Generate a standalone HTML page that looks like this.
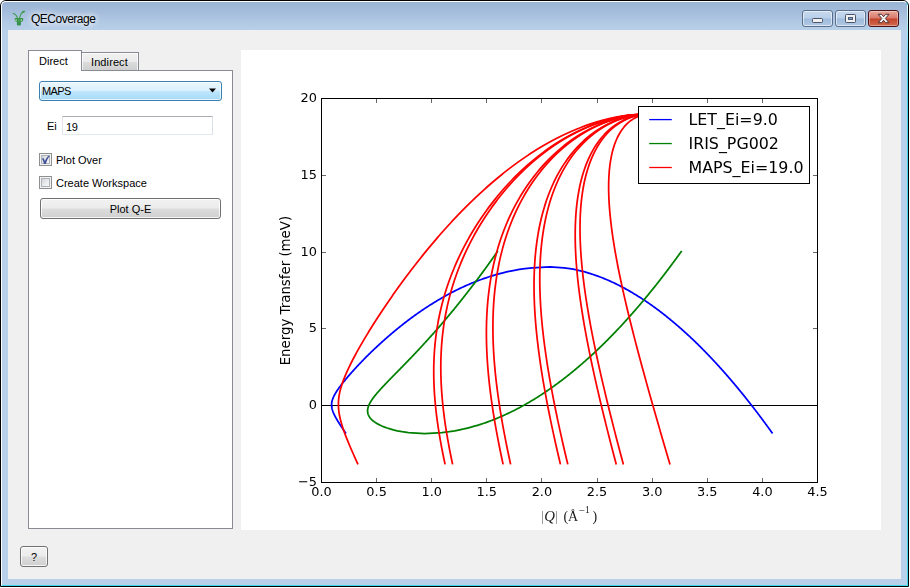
<!DOCTYPE html>
<html>
<head>
<meta charset="utf-8">
<title>QECoverage</title>
<style>
html,body{margin:0;padding:0;background:#fff;}
body{width:910px;height:588px;overflow:hidden;position:relative;font-family:"Liberation Sans",sans-serif;font-size:11px;color:#000;}
.abs{position:absolute;box-sizing:border-box;}
#win{left:0;top:0;width:909px;height:587px;border:1px solid #000;border-radius:6px 6px 0 0;
  background:linear-gradient(to bottom,#98b3d4 0px,#a3bcdb 10px,#b3cae5 22px,#b9d0ea 30px,#b9d0ea 100%);overflow:hidden;}
#hl{left:1px;top:1px;width:907px;height:585px;border:1px solid #fff;border-right-color:#3fd6ee;border-bottom-color:#3fd6ee;border-radius:5px 5px 0 0;}
#hlr{left:907px;top:5px;width:1px;height:60px;background:linear-gradient(to bottom,#e6f8fc,#3fd6ee);}
#client{left:8px;top:30px;width:893px;height:549px;background:#f0f0f0;}
#title{left:31px;top:12px;font-size:12px;line-height:14px;letter-spacing:-0.5px;color:#000;white-space:nowrap;text-shadow:0 0 6px #fff,0 0 6px #fff;}
.cap{top:10px;height:17px;border:1px solid #5b6f8a;border-radius:3px;
  background:linear-gradient(to bottom,#c6d8ee 0%,#b9cfe9 48%,#9fbbdc 52%,#b0c8e4 100%);box-shadow:inset 0 0 0 1px rgba(255,255,255,0.55);}
#bmin{left:802px;width:31px;}
#bmax{left:835px;width:31px;}
#bclose{left:868px;width:31px;border-color:#4c1216;
  background:linear-gradient(to bottom,#e9a99b 0%,#d9796a 48%,#c2432c 52%,#d2694d 100%);box-shadow:inset 0 0 0 1px rgba(255,255,255,0.35);}
.fig{position:absolute;left:241px;top:50px;will-change:transform;}
/* tabs */
#pane{left:28px;top:70px;width:205px;height:459px;background:#fff;border:1px solid #898c95;}
#tab1{left:28px;top:50px;width:54px;height:21px;background:#fff;border:1px solid #898c95;border-bottom:none;}
#tab2{left:81px;top:52px;width:58px;height:18px;border:1px solid #898c95;border-bottom:none;
  background:linear-gradient(to bottom,#f2f2f2 0%,#ebebeb 50%,#dddddd 50%,#cfcfcf 100%);box-shadow:inset 1px 1px 0 rgba(255,255,255,0.7),inset -1px 0 0 rgba(255,255,255,0.7);}
.lbl{white-space:nowrap;line-height:13px;}
#combo{left:39px;top:81px;width:183px;height:20px;border:1px solid #3c7fb1;border-radius:3px;
  background:linear-gradient(to bottom,#eaf6fd 0%,#d9f0fc 48%,#bee6fd 52%,#a7d9f5 100%);box-shadow:inset 0 0 0 1px rgba(255,255,255,0.7);}
#edit{left:62px;top:116px;width:151px;height:19px;background:#fff;border:1px solid #e3e9ef;border-top-color:#abadb3;border-left-color:#e2e3ea;border-right-color:#dbdfe6;}
.chk{width:13px;height:13px;border:1px solid #8e8f8f;background:#f4f4f4;}
.chk i{position:absolute;left:1px;top:1px;width:9px;height:9px;box-sizing:border-box;border:1px solid #aeb3b9;
  background:linear-gradient(135deg,#cfd2d5 0%,#e9eaec 50%,#f8f8f8 100%);display:block;}
.btn{border:1px solid #707070;border-radius:3px;
  background:linear-gradient(to bottom,#f2f2f2 0%,#ebebeb 48%,#dddddd 52%,#cfcfcf 100%);box-shadow:inset 0 0 0 1px rgba(255,255,255,0.8);text-align:center;}
</style>
</head>
<body>
<div id="layer" style="position:absolute;left:0;top:0;width:910px;height:588px;">
<div id="win" class="abs"></div>
<div id="hl" class="abs"></div>
<div id="hlr" class="abs"></div>
<div id="client" class="abs"></div>

<!-- title bar -->
<svg class="abs" style="left:12px;top:10px" width="14" height="17" viewBox="0 0 14 17">
  <g fill="none" stroke="#3f9a4b" stroke-linecap="round">
    <path d="M1.2,3.4 C3.2,3.7 4.6,5.3 5.5,8.2" stroke-width="1.05"/>
    <path d="M12,1.5 C10.2,2 8.4,4.2 7.6,8.2" stroke-width="1.15"/>
    <path d="M12.1,1.4 L10.6,2.3" stroke-width="1.7"/>
  </g>
  <path d="M2.9,7.9 L11,7.9 L11.3,10.2 L10.2,11.4 L8.8,11.9 L9,14.4 C8.6,15.9 5.2,15.9 4.8,14.4 L5,11.9 L3.8,11.4 L2.7,10.2 Z" fill="#36914a"/>
  <rect x="3.4" y="9.3" width="1.5" height="1.6" fill="#9fd39c"/>
  <rect x="8.6" y="9.3" width="1.5" height="1.6" fill="#9fd39c"/>
  <path d="M6.9,8.6 V12.2" stroke="#5fb06a" stroke-width="0.7"/>
</svg>
<div id="title" class="abs">QECoverage</div>
<div id="bmin" class="abs cap"></div>
<div id="bmax" class="abs cap"></div>
<div id="bclose" class="abs cap"></div>
<svg class="abs" style="left:802px;top:10px" width="97" height="17" viewBox="0 0 97 17">
  <rect x="10.5" y="8.5" width="10" height="4" fill="#f1f1f1" stroke="#4c5468" stroke-width="1" rx="0.8"/>
  <rect x="43.5" y="4.5" width="10" height="8" fill="#f1f1f1" stroke="#4c5468" stroke-width="1" rx="0.8"/>
  <rect x="46.5" y="7.5" width="4" height="2" fill="#86a3cb" stroke="#4a5870" stroke-width="1"/>
  <path d="M76.2,4.3 L79.6,4.3 L81.6,6.7 L83.6,4.3 L87,4.3 L83.4,8.5 L87,12.7 L83.6,12.7 L81.6,10.3 L79.6,12.7 L76.2,12.7 L79.8,8.5 Z" fill="#f4f4f4" stroke="#4f3030" stroke-width="1" stroke-linejoin="round"/>
</svg>

<!-- plot -->
<svg class="fig" width="640" height="480" viewBox="0 0 640 480">
<rect x="0" y="0" width="640" height="480" fill="#ffffff"/>
<defs><clipPath id="axclip"><rect x="80.5" y="48.5" width="496" height="384"/></clipPath></defs>
<g clip-path="url(#axclip)" fill="none" stroke-width="1.75" stroke-linejoin="round" stroke-linecap="square">
<path d="M80.5,355.5 L576.5,355.5" stroke="#000" stroke-width="1" stroke-linecap="butt"/>
<path d="M104.51,382.85 L103.95,382.01 L103.38,381.18 L102.82,380.35 L102.25,379.51 L101.70,378.68 L101.14,377.85 L100.59,377.01 L100.04,376.18 L99.49,375.35 L98.96,374.51 L98.42,373.68 L97.89,372.84 L97.37,372.01 L96.86,371.18 L96.36,370.34 L95.86,369.51 L95.38,368.68 L94.91,367.84 L94.45,367.01 L94.01,366.18 L93.58,365.34 L93.17,364.51 L92.78,363.68 L92.42,362.84 L92.08,362.01 L91.77,361.17 L91.49,360.34 L91.25,359.51 L91.04,358.67 L90.86,357.84 L90.73,357.01 L90.64,356.17 L90.60,355.34 L90.60,354.51 L90.64,353.67 L90.73,352.84 L90.86,352.00 L91.04,351.17 L91.26,350.34 L91.52,349.50 L91.81,348.67 L92.14,347.84 L92.51,347.00 L92.90,346.17 L93.32,345.34 L93.77,344.50 L94.24,343.67 L94.73,342.83 L95.24,342.00 L95.77,341.17 L96.32,340.33 L96.89,339.50 L97.47,338.67 L98.06,337.83 L98.66,337.00 L99.28,336.17 L99.90,335.33 L100.54,334.50 L101.19,333.67 L101.84,332.83 L102.51,332.00 L103.18,331.16 L103.86,330.33 L104.55,329.50 L105.24,328.66 L105.94,327.83 L106.65,327.00 L107.36,326.16 L108.08,325.33 L108.81,324.50 L109.54,323.66 L110.27,322.83 L111.02,321.99 L111.76,321.16 L112.52,320.33 L113.27,319.49 L114.04,318.66 L114.80,317.83 L115.58,316.99 L116.35,316.16 L117.14,315.33 L117.92,314.49 L118.71,313.66 L119.51,312.82 L120.31,311.99 L121.12,311.16 L121.93,310.32 L122.74,309.49 L123.56,308.66 L124.39,307.82 L125.22,306.99 L126.05,306.16 L126.89,305.32 L127.74,304.49 L128.59,303.66 L129.44,302.82 L130.30,301.99 L131.16,301.15 L132.03,300.32 L132.90,299.49 L133.78,298.65 L134.66,297.82 L135.55,296.99 L136.45,296.15 L137.34,295.32 L138.25,294.49 L139.16,293.65 L140.07,292.82 L140.99,291.98 L141.92,291.15 L142.85,290.32 L143.79,289.48 L144.73,288.65 L145.68,287.82 L146.64,286.98 L147.60,286.15 L148.56,285.32 L149.54,284.48 L150.52,283.65 L151.50,282.82 L152.50,281.98 L153.50,281.15 L154.50,280.31 L155.52,279.48 L156.54,278.65 L157.56,277.81 L158.60,276.98 L159.64,276.15 L160.69,275.31 L161.75,274.48 L162.81,273.65 L163.89,272.81 L164.97,271.98 L166.06,271.14 L167.16,270.31 L168.27,269.48 L169.38,268.64 L170.51,267.81 L171.65,266.98 L172.79,266.14 L173.95,265.31 L175.11,264.48 L176.29,263.64 L177.48,262.81 L178.67,261.97 L179.88,261.14 L181.10,260.31 L182.33,259.47 L183.58,258.64 L184.84,257.81 L186.11,256.97 L187.39,256.14 L188.69,255.31 L190.00,254.47 L191.33,253.64 L192.67,252.81 L194.03,251.97 L195.40,251.14 L196.80,250.30 L198.21,249.47 L199.63,248.64 L201.08,247.80 L202.55,246.97 L204.03,246.14 L205.54,245.30 L207.07,244.47 L208.63,243.64 L210.21,242.80 L211.81,241.97 L213.45,241.13 L215.11,240.30 L216.80,239.47 L218.52,238.63 L220.28,237.80 L222.07,236.97 L223.90,236.13 L225.77,235.30 L227.68,234.47 L229.64,233.63 L231.65,232.80 L233.71,231.96 L235.83,231.13 L238.02,230.30 L240.27,229.46 L242.60,228.63 L245.02,227.80 L247.53,226.96 L250.15,226.13 L252.89,225.30 L255.77,224.46 L258.82,223.63 L262.06,222.80 L265.54,221.96 L269.33,221.13 L273.53,220.29 L278.29,219.46 L283.93,218.63 L291.29,217.79 L309.06,216.96 L309.06,216.96 L322.95,217.79 L328.85,218.63 L333.43,219.46 L337.33,220.29 L340.78,221.13 L343.92,221.96 L346.83,222.80 L349.54,223.63 L352.10,224.46 L354.54,225.30 L356.86,226.13 L359.08,226.96 L361.22,227.80 L363.29,228.63 L365.29,229.46 L367.22,230.30 L369.11,231.13 L370.94,231.96 L372.72,232.80 L374.47,233.63 L376.17,234.47 L377.83,235.30 L379.47,236.13 L381.06,236.97 L382.63,237.80 L384.17,238.63 L385.69,239.47 L387.17,240.30 L388.64,241.13 L390.08,241.97 L391.49,242.80 L392.89,243.64 L394.27,244.47 L395.63,245.30 L396.97,246.14 L398.29,246.97 L399.60,247.80 L400.89,248.64 L402.16,249.47 L403.42,250.30 L404.66,251.14 L405.90,251.97 L407.11,252.81 L408.32,253.64 L409.51,254.47 L410.69,255.31 L411.86,256.14 L413.02,256.97 L414.16,257.81 L415.30,258.64 L416.42,259.47 L417.54,260.31 L418.64,261.14 L419.74,261.97 L420.82,262.81 L421.90,263.64 L422.97,264.48 L424.03,265.31 L425.08,266.14 L426.12,266.98 L427.16,267.81 L428.18,268.64 L429.20,269.48 L430.22,270.31 L431.22,271.14 L432.22,271.98 L433.21,272.81 L434.20,273.65 L435.17,274.48 L436.14,275.31 L437.11,276.15 L438.07,276.98 L439.02,277.81 L439.97,278.65 L440.91,279.48 L441.84,280.31 L442.77,281.15 L443.69,281.98 L444.61,282.82 L445.52,283.65 L446.43,284.48 L447.33,285.32 L448.23,286.15 L449.12,286.98 L450.01,287.82 L450.89,288.65 L451.77,289.48 L452.65,290.32 L453.51,291.15 L454.38,291.98 L455.24,292.82 L456.09,293.65 L456.94,294.49 L457.79,295.32 L458.63,296.15 L459.47,296.99 L460.31,297.82 L461.14,298.65 L461.96,299.49 L462.79,300.32 L463.61,301.15 L464.42,301.99 L465.23,302.82 L466.04,303.66 L466.85,304.49 L467.65,305.32 L468.44,306.16 L469.24,306.99 L470.03,307.82 L470.82,308.66 L471.60,309.49 L472.38,310.32 L473.16,311.16 L473.93,311.99 L474.70,312.82 L475.47,313.66 L476.23,314.49 L477.00,315.33 L477.76,316.16 L478.51,316.99 L479.26,317.83 L480.01,318.66 L480.76,319.49 L481.51,320.33 L482.25,321.16 L482.99,321.99 L483.72,322.83 L484.46,323.66 L485.19,324.50 L485.92,325.33 L486.64,326.16 L487.36,327.00 L488.08,327.83 L488.80,328.66 L489.52,329.50 L490.23,330.33 L490.94,331.16 L491.65,332.00 L492.36,332.83 L493.06,333.67 L493.76,334.50 L494.46,335.33 L495.16,336.17 L495.85,337.00 L496.54,337.83 L497.23,338.67 L497.92,339.50 L498.60,340.33 L499.29,341.17 L499.97,342.00 L500.65,342.83 L501.32,343.67 L502.00,344.50 L502.67,345.34 L503.34,346.17 L504.01,347.00 L504.68,347.84 L505.34,348.67 L506.01,349.50 L506.67,350.34 L507.33,351.17 L507.98,352.00 L508.64,352.84 L509.29,353.67 L509.94,354.51 L510.59,355.34 L511.24,356.17 L511.89,357.01 L512.53,357.84 L513.17,358.67 L513.81,359.51 L514.45,360.34 L515.09,361.17 L515.72,362.01 L516.36,362.84 L516.99,363.68 L517.62,364.51 L518.25,365.34 L518.88,366.18 L519.50,367.01 L520.13,367.84 L520.75,368.68 L521.37,369.51 L521.99,370.34 L522.60,371.18 L523.22,372.01 L523.84,372.84 L524.45,373.68 L525.06,374.51 L525.67,375.35 L526.28,376.18 L526.88,377.01 L527.49,377.85 L528.09,378.68 L528.70,379.51 L529.30,380.35 L529.90,381.18 L530.49,382.01 L531.09,382.85" stroke="#0000ff"/>
<path d="M256.41,201.60 L255.77,202.51 L255.13,203.43 L254.49,204.34 L253.85,205.26 L253.20,206.17 L252.56,207.08 L251.91,208.00 L251.27,208.91 L250.62,209.83 L249.97,210.74 L249.31,211.66 L248.66,212.57 L248.00,213.48 L247.35,214.40 L246.69,215.31 L246.03,216.23 L245.37,217.14 L244.70,218.05 L244.04,218.97 L243.37,219.88 L242.71,220.80 L242.04,221.71 L241.36,222.63 L240.69,223.54 L240.02,224.45 L239.34,225.37 L238.66,226.28 L237.98,227.20 L237.30,228.11 L236.62,229.02 L235.93,229.94 L235.25,230.85 L234.56,231.77 L233.87,232.68 L233.18,233.60 L232.48,234.51 L231.79,235.42 L231.09,236.34 L230.39,237.25 L229.69,238.17 L228.99,239.08 L228.28,239.99 L227.58,240.91 L226.87,241.82 L226.16,242.74 L225.44,243.65 L224.73,244.57 L224.01,245.48 L223.30,246.39 L222.58,247.31 L221.85,248.22 L221.13,249.14 L220.40,250.05 L219.68,250.96 L218.95,251.88 L218.21,252.79 L217.48,253.71 L216.74,254.62 L216.00,255.54 L215.26,256.45 L214.52,257.36 L213.78,258.28 L213.03,259.19 L212.28,260.11 L211.53,261.02 L210.77,261.93 L210.02,262.85 L209.26,263.76 L208.50,264.68 L207.74,265.59 L206.97,266.51 L206.21,267.42 L205.44,268.33 L204.67,269.25 L203.89,270.16 L203.12,271.08 L202.34,271.99 L201.56,272.90 L200.77,273.82 L199.99,274.73 L199.20,275.65 L198.41,276.56 L197.62,277.48 L196.82,278.39 L196.02,279.30 L195.22,280.22 L194.42,281.13 L193.62,282.05 L192.81,282.96 L192.00,283.87 L191.19,284.79 L190.37,285.70 L189.55,286.62 L188.73,287.53 L187.91,288.45 L187.09,289.36 L186.26,290.27 L185.43,291.19 L184.60,292.10 L183.76,293.02 L182.92,293.93 L182.08,294.84 L181.24,295.76 L180.39,296.67 L179.55,297.59 L178.70,298.50 L177.84,299.42 L176.99,300.33 L176.13,301.24 L175.27,302.16 L174.41,303.07 L173.54,303.99 L172.68,304.90 L171.81,305.81 L170.94,306.73 L170.06,307.64 L169.19,308.56 L168.31,309.47 L167.43,310.38 L166.55,311.30 L165.66,312.21 L164.78,313.13 L163.89,314.04 L163.00,314.96 L162.11,315.87 L161.22,316.78 L160.32,317.70 L159.43,318.61 L158.53,319.53 L157.64,320.44 L156.74,321.35 L155.84,322.27 L154.94,323.18 L154.04,324.10 L153.15,325.01 L152.25,325.93 L151.35,326.84 L150.46,327.75 L149.56,328.67 L148.67,329.58 L147.78,330.50 L146.90,331.41 L146.01,332.32 L145.13,333.24 L144.26,334.15 L143.39,335.07 L142.52,335.98 L141.66,336.90 L140.81,337.81 L139.97,338.72 L139.14,339.64 L138.31,340.55 L137.50,341.47 L136.70,342.38 L135.92,343.29 L135.15,344.21 L134.40,345.12 L133.67,346.04 L132.96,346.95 L132.27,347.87 L131.60,348.78 L130.97,349.69 L130.36,350.61 L129.79,351.52 L129.25,352.44 L128.75,353.35 L128.30,354.26 L127.88,355.18 L127.52,356.09 L127.21,357.01 L126.96,357.92 L126.77,358.84 L126.64,359.75 L126.58,360.66 L126.60,361.58 L126.70,362.49 L126.88,363.41 L127.14,364.32 L127.50,365.23 L127.96,366.15 L128.52,367.06 L129.19,367.98 L129.98,368.89 L130.88,369.81 L131.92,370.72 L133.08,371.63 L134.40,372.55 L135.86,373.46 L137.50,374.38 L139.32,375.29 L141.35,376.20 L143.62,377.12 L146.17,378.03 L149.05,378.95 L152.35,379.86 L156.24,380.78 L161.01,381.69 L167.43,382.60 L183.67,383.52 L183.67,383.52 L200.98,382.60 L208.26,381.69 L213.88,380.78 L218.63,379.86 L222.84,378.95 L226.64,378.03 L230.16,377.12 L233.43,376.20 L236.51,375.29 L239.43,374.38 L242.21,373.46 L244.86,372.55 L247.42,371.63 L249.87,370.72 L252.25,369.81 L254.54,368.89 L256.77,367.98 L258.94,367.06 L261.05,366.15 L263.10,365.23 L265.10,364.32 L267.06,363.41 L268.98,362.49 L270.85,361.58 L272.69,360.66 L274.49,359.75 L276.26,358.84 L278.00,357.92 L279.70,357.01 L281.38,356.09 L283.03,355.18 L284.66,354.26 L286.26,353.35 L287.84,352.44 L289.39,351.52 L290.92,350.61 L292.43,349.69 L293.93,348.78 L295.40,347.87 L296.85,346.95 L298.29,346.04 L299.71,345.12 L301.11,344.21 L302.50,343.29 L303.87,342.38 L305.23,341.47 L306.57,340.55 L307.90,339.64 L309.22,338.72 L310.52,337.81 L311.81,336.90 L313.09,335.98 L314.35,335.07 L315.60,334.15 L316.85,333.24 L318.08,332.32 L319.30,331.41 L320.51,330.50 L321.71,329.58 L322.90,328.67 L324.08,327.75 L325.25,326.84 L326.41,325.93 L327.56,325.01 L328.70,324.10 L329.84,323.18 L330.97,322.27 L332.08,321.35 L333.19,320.44 L334.30,319.53 L335.39,318.61 L336.48,317.70 L337.56,316.78 L338.63,315.87 L339.69,314.96 L340.75,314.04 L341.80,313.13 L342.85,312.21 L343.89,311.30 L344.92,310.38 L345.94,309.47 L346.96,308.56 L347.98,307.64 L348.98,306.73 L349.98,305.81 L350.98,304.90 L351.97,303.99 L352.95,303.07 L353.93,302.16 L354.91,301.24 L355.87,300.33 L356.84,299.42 L357.79,298.50 L358.75,297.59 L359.69,296.67 L360.64,295.76 L361.57,294.84 L362.51,293.93 L363.44,293.02 L364.36,292.10 L365.28,291.19 L366.19,290.27 L367.10,289.36 L368.01,288.45 L368.91,287.53 L369.81,286.62 L370.70,285.70 L371.59,284.79 L372.48,283.87 L373.36,282.96 L374.23,282.05 L375.11,281.13 L375.98,280.22 L376.84,279.30 L377.70,278.39 L378.56,277.48 L379.42,276.56 L380.27,275.65 L381.12,274.73 L381.96,273.82 L382.80,272.90 L383.64,271.99 L384.47,271.08 L385.30,270.16 L386.13,269.25 L386.95,268.33 L387.77,267.42 L388.59,266.51 L389.40,265.59 L390.22,264.68 L391.02,263.76 L391.83,262.85 L392.63,261.93 L393.43,261.02 L394.23,260.11 L395.02,259.19 L395.81,258.28 L396.60,257.36 L397.38,256.45 L398.16,255.54 L398.94,254.62 L399.72,253.71 L400.49,252.79 L401.26,251.88 L402.03,250.96 L402.80,250.05 L403.56,249.14 L404.32,248.22 L405.08,247.31 L405.83,246.39 L406.59,245.48 L407.34,244.57 L408.09,243.65 L408.83,242.74 L409.57,241.82 L410.32,240.91 L411.05,239.99 L411.79,239.08 L412.52,238.17 L413.26,237.25 L413.99,236.34 L414.71,235.42 L415.44,234.51 L416.16,233.60 L416.88,232.68 L417.60,231.77 L418.32,230.85 L419.03,229.94 L419.74,229.02 L420.45,228.11 L421.16,227.20 L421.87,226.28 L422.57,225.37 L423.27,224.45 L423.97,223.54 L424.67,222.63 L425.37,221.71 L426.06,220.80 L426.75,219.88 L427.44,218.97 L428.13,218.05 L428.82,217.14 L429.50,216.23 L430.18,215.31 L430.87,214.40 L431.54,213.48 L432.22,212.57 L432.90,211.66 L433.57,210.74 L434.24,209.83 L434.91,208.91 L435.58,208.00 L436.25,207.08 L436.91,206.17 L437.58,205.26 L438.24,204.34 L438.90,203.43 L439.56,202.51 L440.21,201.60" stroke="#008000"/>
<path d="M116.63,413.57 L115.82,411.81 L115.02,410.05 L114.23,408.29 L113.43,406.53 L112.65,404.77 L111.86,403.01 L111.09,401.25 L110.32,399.49 L109.56,397.73 L108.81,395.97 L108.06,394.21 L107.33,392.45 L106.61,390.69 L105.90,388.93 L105.20,387.17 L104.52,385.41 L103.86,383.65 L103.21,381.89 L102.59,380.13 L101.99,378.37 L101.41,376.61 L100.86,374.85 L100.34,373.09 L99.85,371.33 L99.40,369.57 L98.99,367.81 L98.62,366.05 L98.30,364.29 L98.02,362.53 L97.79,360.77 L97.61,359.01 L97.49,357.25 L97.43,355.49 L97.42,353.73 L97.47,351.97 L97.58,350.21 L97.75,348.45 L97.97,346.69 L98.25,344.93 L98.58,343.17 L98.96,341.41 L99.39,339.65 L99.87,337.89 L100.39,336.14 L100.95,334.38 L101.55,332.62 L102.18,330.86 L102.84,329.10 L103.54,327.34 L104.26,325.58 L105.01,323.82 L105.78,322.06 L106.58,320.30 L107.40,318.54 L108.24,316.78 L109.09,315.02 L109.97,313.26 L110.86,311.50 L111.76,309.74 L112.68,307.98 L113.62,306.22 L114.57,304.46 L115.53,302.70 L116.50,300.94 L117.48,299.18 L118.47,297.42 L119.48,295.66 L120.49,293.90 L121.52,292.14 L122.55,290.38 L123.59,288.62 L124.64,286.86 L125.70,285.10 L126.77,283.34 L127.85,281.58 L128.93,279.82 L130.03,278.06 L131.13,276.30 L132.24,274.54 L133.35,272.78 L134.48,271.02 L135.61,269.26 L136.74,267.50 L137.89,265.74 L139.04,263.98 L140.20,262.22 L141.37,260.46 L142.54,258.70 L143.73,256.94 L144.91,255.18 L146.11,253.42 L147.31,251.66 L148.52,249.90 L149.74,248.14 L150.97,246.38 L152.20,244.62 L153.44,242.86 L154.68,241.10 L155.94,239.34 L157.20,237.58 L158.47,235.82 L159.75,234.06 L161.03,232.30 L162.32,230.54 L163.62,228.78 L164.93,227.03 L166.24,225.27 L167.57,223.51 L168.90,221.75 L170.24,219.99 L171.59,218.23 L172.94,216.47 L174.31,214.71 L175.68,212.95 L177.07,211.19 L178.46,209.43 L179.86,207.67 L181.27,205.91 L182.69,204.15 L184.11,202.39 L185.55,200.63 L187.00,198.87 L188.46,197.11 L189.93,195.35 L191.41,193.59 L192.89,191.83 L194.39,190.07 L195.90,188.31 L197.43,186.55 L198.96,184.79 L200.50,183.03 L202.06,181.27 L203.63,179.51 L205.21,177.75 L206.80,175.99 L208.41,174.23 L210.03,172.47 L211.66,170.71 L213.31,168.95 L214.97,167.19 L216.65,165.43 L218.34,163.67 L220.04,161.91 L221.76,160.15 L223.50,158.39 L225.25,156.63 L227.03,154.87 L228.81,153.11 L230.62,151.35 L232.44,149.59 L234.29,147.83 L236.15,146.07 L238.03,144.31 L239.94,142.55 L241.86,140.79 L243.81,139.03 L245.78,137.27 L247.78,135.51 L249.80,133.75 L251.84,131.99 L253.92,130.23 L256.01,128.47 L258.14,126.71 L260.30,124.95 L262.49,123.19 L264.71,121.43 L266.97,119.67 L269.26,117.92 L271.59,116.16 L273.96,114.40 L276.37,112.64 L278.83,110.88 L281.33,109.12 L283.88,107.36 L286.48,105.60 L289.14,103.84 L291.85,102.08 L294.63,100.32 L297.47,98.56 L300.39,96.80 L303.39,95.04 L306.47,93.28 L309.64,91.52 L312.91,89.76 L316.30,88.00 L319.81,86.24 L323.45,84.48 L327.25,82.72 L331.23,80.96 L335.42,79.20 L339.84,77.44 L344.55,75.68 L349.61,73.92 L355.12,72.16 L361.21,70.40 L368.12,68.64 L376.32,66.88 L387.00,65.12 L412.81,63.36" stroke="#ff0000"/>
<path d="M203.92,413.57 L203.54,411.81 L203.17,410.05 L202.80,408.29 L202.43,406.53 L202.08,404.77 L201.72,403.01 L201.37,401.25 L201.03,399.49 L200.69,397.73 L200.36,395.97 L200.04,394.21 L199.71,392.45 L199.40,390.69 L199.09,388.93 L198.79,387.17 L198.49,385.41 L198.20,383.65 L197.91,381.89 L197.64,380.13 L197.36,378.37 L197.10,376.61 L196.84,374.85 L196.59,373.09 L196.34,371.33 L196.11,369.57 L195.88,367.81 L195.65,366.05 L195.44,364.29 L195.23,362.53 L195.03,360.77 L194.83,359.01 L194.65,357.25 L194.47,355.49 L194.30,353.73 L194.14,351.97 L193.98,350.21 L193.84,348.45 L193.70,346.69 L193.57,344.93 L193.45,343.17 L193.34,341.41 L193.24,339.65 L193.15,337.89 L193.06,336.14 L192.99,334.38 L192.93,332.62 L192.87,330.86 L192.82,329.10 L192.79,327.34 L192.76,325.58 L192.74,323.82 L192.74,322.06 L192.74,320.30 L192.75,318.54 L192.78,316.78 L192.81,315.02 L192.85,313.26 L192.91,311.50 L192.97,309.74 L193.05,307.98 L193.14,306.22 L193.24,304.46 L193.35,302.70 L193.47,300.94 L193.60,299.18 L193.74,297.42 L193.89,295.66 L194.06,293.90 L194.24,292.14 L194.43,290.38 L194.63,288.62 L194.84,286.86 L195.07,285.10 L195.30,283.34 L195.55,281.58 L195.81,279.82 L196.08,278.06 L196.37,276.30 L196.67,274.54 L196.98,272.78 L197.30,271.02 L197.63,269.26 L197.98,267.50 L198.34,265.74 L198.71,263.98 L199.10,262.22 L199.50,260.46 L199.91,258.70 L200.33,256.94 L200.77,255.18 L201.22,253.42 L201.68,251.66 L202.16,249.90 L202.65,248.14 L203.15,246.38 L203.67,244.62 L204.20,242.86 L204.75,241.10 L205.30,239.34 L205.87,237.58 L206.46,235.82 L207.06,234.06 L207.67,232.30 L208.29,230.54 L208.93,228.78 L209.59,227.03 L210.26,225.27 L210.94,223.51 L211.63,221.75 L212.34,219.99 L213.07,218.23 L213.81,216.47 L214.56,214.71 L215.33,212.95 L216.11,211.19 L216.91,209.43 L217.72,207.67 L218.55,205.91 L219.39,204.15 L220.25,202.39 L221.12,200.63 L222.01,198.87 L222.91,197.11 L223.83,195.35 L224.76,193.59 L225.71,191.83 L226.68,190.07 L227.66,188.31 L228.66,186.55 L229.68,184.79 L230.71,183.03 L231.76,181.27 L232.82,179.51 L233.91,177.75 L235.00,175.99 L236.12,174.23 L237.26,172.47 L238.41,170.71 L239.58,168.95 L240.77,167.19 L241.98,165.43 L243.21,163.67 L244.46,161.91 L245.72,160.15 L247.01,158.39 L248.32,156.63 L249.65,154.87 L251.00,153.11 L252.37,151.35 L253.76,149.59 L255.18,147.83 L256.62,146.07 L258.08,144.31 L259.57,142.55 L261.08,140.79 L262.62,139.03 L264.18,137.27 L265.77,135.51 L267.39,133.75 L269.03,131.99 L270.71,130.23 L272.42,128.47 L274.15,126.71 L275.92,124.95 L277.73,123.19 L279.57,121.43 L281.44,119.67 L283.35,117.92 L285.30,116.16 L287.30,114.40 L289.33,112.64 L291.41,110.88 L293.54,109.12 L295.72,107.36 L297.95,105.60 L300.23,103.84 L302.58,102.08 L304.99,100.32 L307.46,98.56 L310.01,96.80 L312.63,95.04 L315.34,93.28 L318.13,91.52 L321.03,89.76 L324.04,88.00 L327.16,86.24 L330.42,84.48 L333.83,82.72 L337.41,80.96 L341.19,79.20 L345.19,77.44 L349.47,75.68 L354.09,73.92 L359.13,72.16 L364.72,70.40 L371.09,68.64 L378.68,66.88 L388.62,65.12 L412.81,63.36" stroke="#ff0000"/>
<path d="M211.45,413.57 L211.08,411.81 L210.71,410.05 L210.34,408.29 L209.98,406.53 L209.62,404.77 L209.27,403.01 L208.92,401.25 L208.58,399.49 L208.24,397.73 L207.91,395.97 L207.59,394.21 L207.26,392.45 L206.95,390.69 L206.64,388.93 L206.33,387.17 L206.03,385.41 L205.74,383.65 L205.45,381.89 L205.17,380.13 L204.90,378.37 L204.63,376.61 L204.36,374.85 L204.10,373.09 L203.85,371.33 L203.61,369.57 L203.37,367.81 L203.14,366.05 L202.92,364.29 L202.70,362.53 L202.49,360.77 L202.29,359.01 L202.09,357.25 L201.90,355.49 L201.72,353.73 L201.55,351.97 L201.38,350.21 L201.22,348.45 L201.07,346.69 L200.93,344.93 L200.79,343.17 L200.67,341.41 L200.55,339.65 L200.44,337.89 L200.34,336.14 L200.25,334.38 L200.16,332.62 L200.09,330.86 L200.02,329.10 L199.96,327.34 L199.91,325.58 L199.87,323.82 L199.84,322.06 L199.82,320.30 L199.81,318.54 L199.81,316.78 L199.82,315.02 L199.84,313.26 L199.87,311.50 L199.90,309.74 L199.95,307.98 L200.01,306.22 L200.08,304.46 L200.16,302.70 L200.25,300.94 L200.35,299.18 L200.46,297.42 L200.58,295.66 L200.71,293.90 L200.85,292.14 L201.01,290.38 L201.17,288.62 L201.35,286.86 L201.53,285.10 L201.73,283.34 L201.94,281.58 L202.17,279.82 L202.40,278.06 L202.64,276.30 L202.90,274.54 L203.17,272.78 L203.45,271.02 L203.74,269.26 L204.05,267.50 L204.37,265.74 L204.69,263.98 L205.04,262.22 L205.39,260.46 L205.76,258.70 L206.14,256.94 L206.53,255.18 L206.93,253.42 L207.35,251.66 L207.78,249.90 L208.22,248.14 L208.68,246.38 L209.15,244.62 L209.63,242.86 L210.12,241.10 L210.63,239.34 L211.15,237.58 L211.69,235.82 L212.24,234.06 L212.80,232.30 L213.37,230.54 L213.96,228.78 L214.57,227.03 L215.18,225.27 L215.81,223.51 L216.46,221.75 L217.12,219.99 L217.79,218.23 L218.48,216.47 L219.18,214.71 L219.90,212.95 L220.63,211.19 L221.37,209.43 L222.13,207.67 L222.91,205.91 L223.70,204.15 L224.50,202.39 L225.32,200.63 L226.16,198.87 L227.01,197.11 L227.88,195.35 L228.76,193.59 L229.66,191.83 L230.57,190.07 L231.50,188.31 L232.45,186.55 L233.41,184.79 L234.39,183.03 L235.39,181.27 L236.41,179.51 L237.44,177.75 L238.48,175.99 L239.55,174.23 L240.64,172.47 L241.74,170.71 L242.86,168.95 L244.00,167.19 L245.16,165.43 L246.33,163.67 L247.53,161.91 L248.75,160.15 L249.98,158.39 L251.24,156.63 L252.52,154.87 L253.82,153.11 L255.14,151.35 L256.49,149.59 L257.85,147.83 L259.24,146.07 L260.66,144.31 L262.10,142.55 L263.56,140.79 L265.05,139.03 L266.56,137.27 L268.11,135.51 L269.68,133.75 L271.27,131.99 L272.90,130.23 L274.56,128.47 L276.25,126.71 L277.97,124.95 L279.73,123.19 L281.52,121.43 L283.35,119.67 L285.21,117.92 L287.11,116.16 L289.06,114.40 L291.05,112.64 L293.08,110.88 L295.16,109.12 L297.29,107.36 L299.47,105.60 L301.71,103.84 L304.01,102.08 L306.37,100.32 L308.80,98.56 L311.29,96.80 L313.87,95.04 L316.53,93.28 L319.28,91.52 L322.12,89.76 L325.08,88.00 L328.15,86.24 L331.36,84.48 L334.72,82.72 L338.25,80.96 L341.97,79.20 L345.92,77.44 L350.14,75.68 L354.70,73.92 L359.67,72.16 L365.20,70.40 L371.49,68.64 L379.00,66.88 L388.84,65.12 L412.81,63.36" stroke="#ff0000"/>
<path d="M261.93,413.57 L261.55,411.81 L261.17,410.05 L260.80,408.29 L260.43,406.53 L260.06,404.77 L259.69,403.01 L259.33,401.25 L258.97,399.49 L258.62,397.73 L258.26,395.97 L257.92,394.21 L257.57,392.45 L257.23,390.69 L256.89,388.93 L256.55,387.17 L256.22,385.41 L255.90,383.65 L255.57,381.89 L255.25,380.13 L254.93,378.37 L254.62,376.61 L254.31,374.85 L254.01,373.09 L253.71,371.33 L253.41,369.57 L253.12,367.81 L252.83,366.05 L252.55,364.29 L252.27,362.53 L251.99,360.77 L251.72,359.01 L251.46,357.25 L251.20,355.49 L250.94,353.73 L250.69,351.97 L250.44,350.21 L250.20,348.45 L249.96,346.69 L249.73,344.93 L249.50,343.17 L249.28,341.41 L249.07,339.65 L248.85,337.89 L248.65,336.14 L248.45,334.38 L248.25,332.62 L248.07,330.86 L247.88,329.10 L247.71,327.34 L247.53,325.58 L247.37,323.82 L247.21,322.06 L247.06,320.30 L246.91,318.54 L246.77,316.78 L246.63,315.02 L246.50,313.26 L246.38,311.50 L246.27,309.74 L246.16,307.98 L246.06,306.22 L245.96,304.46 L245.88,302.70 L245.80,300.94 L245.72,299.18 L245.66,297.42 L245.60,295.66 L245.55,293.90 L245.50,292.14 L245.47,290.38 L245.44,288.62 L245.42,286.86 L245.40,285.10 L245.40,283.34 L245.40,281.58 L245.41,279.82 L245.43,278.06 L245.46,276.30 L245.50,274.54 L245.54,272.78 L245.59,271.02 L245.66,269.26 L245.73,267.50 L245.81,265.74 L245.90,263.98 L246.00,262.22 L246.10,260.46 L246.22,258.70 L246.35,256.94 L246.48,255.18 L246.63,253.42 L246.79,251.66 L246.95,249.90 L247.13,248.14 L247.31,246.38 L247.51,244.62 L247.72,242.86 L247.93,241.10 L248.16,239.34 L248.40,237.58 L248.65,235.82 L248.91,234.06 L249.18,232.30 L249.47,230.54 L249.76,228.78 L250.07,227.03 L250.38,225.27 L250.71,223.51 L251.05,221.75 L251.41,219.99 L251.77,218.23 L252.15,216.47 L252.54,214.71 L252.94,212.95 L253.36,211.19 L253.79,209.43 L254.23,207.67 L254.69,205.91 L255.16,204.15 L255.64,202.39 L256.13,200.63 L256.64,198.87 L257.17,197.11 L257.71,195.35 L258.26,193.59 L258.83,191.83 L259.41,190.07 L260.01,188.31 L260.62,186.55 L261.25,184.79 L261.89,183.03 L262.55,181.27 L263.23,179.51 L263.92,177.75 L264.63,175.99 L265.36,174.23 L266.10,172.47 L266.86,170.71 L267.64,168.95 L268.44,167.19 L269.25,165.43 L270.09,163.67 L270.94,161.91 L271.81,160.15 L272.70,158.39 L273.62,156.63 L274.55,154.87 L275.50,153.11 L276.48,151.35 L277.48,149.59 L278.50,147.83 L279.54,146.07 L280.61,144.31 L281.70,142.55 L282.81,140.79 L283.95,139.03 L285.12,137.27 L286.31,135.51 L287.53,133.75 L288.78,131.99 L290.06,130.23 L291.36,128.47 L292.70,126.71 L294.07,124.95 L295.48,123.19 L296.91,121.43 L298.39,119.67 L299.90,117.92 L301.45,116.16 L303.04,114.40 L304.67,112.64 L306.34,110.88 L308.06,109.12 L309.83,107.36 L311.65,105.60 L313.53,103.84 L315.46,102.08 L317.45,100.32 L319.51,98.56 L321.63,96.80 L323.83,95.04 L326.11,93.28 L328.47,91.52 L330.93,89.76 L333.49,88.00 L336.17,86.24 L338.97,84.48 L341.92,82.72 L345.02,80.96 L348.31,79.20 L351.82,77.44 L355.58,75.68 L359.65,73.92 L364.12,72.16 L369.10,70.40 L374.81,68.64 L381.64,66.88 L390.65,65.12 L412.81,63.36" stroke="#ff0000"/>
<path d="M269.44,413.57 L269.06,411.81 L268.68,410.05 L268.30,408.29 L267.93,406.53 L267.55,404.77 L267.18,403.01 L266.82,401.25 L266.45,399.49 L266.09,397.73 L265.74,395.97 L265.38,394.21 L265.03,392.45 L264.68,390.69 L264.34,388.93 L264.00,387.17 L263.66,385.41 L263.32,383.65 L262.99,381.89 L262.67,380.13 L262.34,378.37 L262.02,376.61 L261.70,374.85 L261.39,373.09 L261.08,371.33 L260.78,369.57 L260.48,367.81 L260.18,366.05 L259.89,364.29 L259.60,362.53 L259.31,360.77 L259.03,359.01 L258.76,357.25 L258.48,355.49 L258.22,353.73 L257.95,351.97 L257.70,350.21 L257.44,348.45 L257.19,346.69 L256.95,344.93 L256.71,343.17 L256.47,341.41 L256.24,339.65 L256.02,337.89 L255.80,336.14 L255.58,334.38 L255.37,332.62 L255.17,330.86 L254.97,329.10 L254.78,327.34 L254.59,325.58 L254.41,323.82 L254.23,322.06 L254.06,320.30 L253.90,318.54 L253.74,316.78 L253.59,315.02 L253.44,313.26 L253.30,311.50 L253.16,309.74 L253.04,307.98 L252.91,306.22 L252.80,304.46 L252.69,302.70 L252.59,300.94 L252.49,299.18 L252.40,297.42 L252.32,295.66 L252.25,293.90 L252.18,292.14 L252.12,290.38 L252.07,288.62 L252.02,286.86 L251.98,285.10 L251.95,283.34 L251.93,281.58 L251.92,279.82 L251.91,278.06 L251.91,276.30 L251.92,274.54 L251.93,272.78 L251.96,271.02 L251.99,269.26 L252.04,267.50 L252.09,265.74 L252.15,263.98 L252.21,262.22 L252.29,260.46 L252.38,258.70 L252.47,256.94 L252.57,255.18 L252.69,253.42 L252.81,251.66 L252.94,249.90 L253.08,248.14 L253.24,246.38 L253.40,244.62 L253.57,242.86 L253.75,241.10 L253.94,239.34 L254.15,237.58 L254.36,235.82 L254.58,234.06 L254.82,232.30 L255.06,230.54 L255.32,228.78 L255.58,227.03 L255.86,225.27 L256.15,223.51 L256.45,221.75 L256.77,219.99 L257.09,218.23 L257.43,216.47 L257.78,214.71 L258.14,212.95 L258.51,211.19 L258.90,209.43 L259.30,207.67 L259.71,205.91 L260.14,204.15 L260.57,202.39 L261.03,200.63 L261.49,198.87 L261.97,197.11 L262.46,195.35 L262.97,193.59 L263.49,191.83 L264.03,190.07 L264.58,188.31 L265.14,186.55 L265.73,184.79 L266.32,183.03 L266.93,181.27 L267.56,179.51 L268.21,177.75 L268.87,175.99 L269.54,174.23 L270.24,172.47 L270.95,170.71 L271.68,168.95 L272.43,167.19 L273.19,165.43 L273.98,163.67 L274.78,161.91 L275.60,160.15 L276.44,158.39 L277.30,156.63 L278.18,154.87 L279.08,153.11 L280.01,151.35 L280.95,149.59 L281.92,147.83 L282.91,146.07 L283.92,144.31 L284.96,142.55 L286.02,140.79 L287.11,139.03 L288.22,137.27 L289.36,135.51 L290.52,133.75 L291.72,131.99 L292.94,130.23 L294.19,128.47 L295.47,126.71 L296.79,124.95 L298.14,123.19 L299.52,121.43 L300.93,119.67 L302.39,117.92 L303.88,116.16 L305.41,114.40 L306.98,112.64 L308.60,110.88 L310.26,109.12 L311.97,107.36 L313.73,105.60 L315.55,103.84 L317.42,102.08 L319.35,100.32 L321.35,98.56 L323.41,96.80 L325.54,95.04 L327.76,93.28 L330.06,91.52 L332.45,89.76 L334.95,88.00 L337.56,86.24 L340.29,84.48 L343.17,82.72 L346.20,80.96 L349.42,79.20 L352.84,77.44 L356.53,75.68 L360.52,73.92 L364.90,72.16 L369.78,70.40 L375.39,68.64 L382.11,66.88 L390.97,65.12 L412.81,63.36" stroke="#ff0000"/>
<path d="M319.25,413.57 L318.83,411.81 L318.42,410.05 L318.01,408.29 L317.59,406.53 L317.19,404.77 L316.78,403.01 L316.37,401.25 L315.97,399.49 L315.57,397.73 L315.17,395.97 L314.77,394.21 L314.38,392.45 L313.99,390.69 L313.59,388.93 L313.21,387.17 L312.82,385.41 L312.44,383.65 L312.05,381.89 L311.67,380.13 L311.30,378.37 L310.92,376.61 L310.55,374.85 L310.18,373.09 L309.81,371.33 L309.45,369.57 L309.08,367.81 L308.72,366.05 L308.37,364.29 L308.01,362.53 L307.66,360.77 L307.31,359.01 L306.96,357.25 L306.62,355.49 L306.28,353.73 L305.94,351.97 L305.61,350.21 L305.28,348.45 L304.95,346.69 L304.62,344.93 L304.30,343.17 L303.98,341.41 L303.67,339.65 L303.35,337.89 L303.04,336.14 L302.74,334.38 L302.44,332.62 L302.14,330.86 L301.84,329.10 L301.55,327.34 L301.26,325.58 L300.98,323.82 L300.70,322.06 L300.42,320.30 L300.15,318.54 L299.88,316.78 L299.62,315.02 L299.36,313.26 L299.10,311.50 L298.85,309.74 L298.60,307.98 L298.36,306.22 L298.12,304.46 L297.88,302.70 L297.65,300.94 L297.43,299.18 L297.21,297.42 L296.99,295.66 L296.78,293.90 L296.57,292.14 L296.37,290.38 L296.17,288.62 L295.98,286.86 L295.80,285.10 L295.61,283.34 L295.44,281.58 L295.27,279.82 L295.10,278.06 L294.95,276.30 L294.79,274.54 L294.64,272.78 L294.50,271.02 L294.37,269.26 L294.24,267.50 L294.11,265.74 L294.00,263.98 L293.88,262.22 L293.78,260.46 L293.68,258.70 L293.59,256.94 L293.50,255.18 L293.42,253.42 L293.35,251.66 L293.29,249.90 L293.23,248.14 L293.18,246.38 L293.14,244.62 L293.10,242.86 L293.07,241.10 L293.05,239.34 L293.04,237.58 L293.04,235.82 L293.04,234.06 L293.05,232.30 L293.07,230.54 L293.10,228.78 L293.13,227.03 L293.18,225.27 L293.23,223.51 L293.29,221.75 L293.37,219.99 L293.45,218.23 L293.54,216.47 L293.64,214.71 L293.75,212.95 L293.87,211.19 L293.99,209.43 L294.13,207.67 L294.28,205.91 L294.44,204.15 L294.61,202.39 L294.80,200.63 L294.99,198.87 L295.19,197.11 L295.41,195.35 L295.63,193.59 L295.87,191.83 L296.12,190.07 L296.38,188.31 L296.66,186.55 L296.95,184.79 L297.25,183.03 L297.56,181.27 L297.89,179.51 L298.23,177.75 L298.58,175.99 L298.95,174.23 L299.34,172.47 L299.73,170.71 L300.15,168.95 L300.58,167.19 L301.02,165.43 L301.48,163.67 L301.96,161.91 L302.45,160.15 L302.96,158.39 L303.49,156.63 L304.03,154.87 L304.60,153.11 L305.18,151.35 L305.78,149.59 L306.40,147.83 L307.04,146.07 L307.71,144.31 L308.39,142.55 L309.09,140.79 L309.82,139.03 L310.57,137.27 L311.35,135.51 L312.15,133.75 L312.97,131.99 L313.82,130.23 L314.70,128.47 L315.61,126.71 L316.54,124.95 L317.50,123.19 L318.50,121.43 L319.53,119.67 L320.59,117.92 L321.69,116.16 L322.82,114.40 L323.99,112.64 L325.20,110.88 L326.45,109.12 L327.75,107.36 L329.09,105.60 L330.48,103.84 L331.93,102.08 L333.43,100.32 L334.98,98.56 L336.60,96.80 L338.29,95.04 L340.05,93.28 L341.89,91.52 L343.81,89.76 L345.82,88.00 L347.94,86.24 L350.18,84.48 L352.54,82.72 L355.04,80.96 L357.71,79.20 L360.58,77.44 L363.67,75.68 L367.05,73.92 L370.77,72.16 L374.96,70.40 L379.79,68.64 L385.63,66.88 L393.39,65.12 L412.81,63.36" stroke="#ff0000"/>
<path d="M326.60,413.57 L326.18,411.81 L325.76,410.05 L325.34,408.29 L324.92,406.53 L324.51,404.77 L324.09,403.01 L323.68,401.25 L323.27,399.49 L322.86,397.73 L322.46,395.97 L322.05,394.21 L321.65,392.45 L321.25,390.69 L320.85,388.93 L320.46,387.17 L320.06,385.41 L319.67,383.65 L319.28,381.89 L318.89,380.13 L318.51,378.37 L318.12,376.61 L317.74,374.85 L317.36,373.09 L316.99,371.33 L316.61,369.57 L316.24,367.81 L315.87,366.05 L315.50,364.29 L315.14,362.53 L314.78,360.77 L314.42,359.01 L314.06,357.25 L313.71,355.49 L313.36,353.73 L313.01,351.97 L312.66,350.21 L312.32,348.45 L311.98,346.69 L311.64,344.93 L311.31,343.17 L310.98,341.41 L310.65,339.65 L310.32,337.89 L310.00,336.14 L309.68,334.38 L309.37,332.62 L309.06,330.86 L308.75,329.10 L308.44,327.34 L308.14,325.58 L307.84,323.82 L307.55,322.06 L307.26,320.30 L306.97,318.54 L306.68,316.78 L306.40,315.02 L306.13,313.26 L305.86,311.50 L305.59,309.74 L305.32,307.98 L305.06,306.22 L304.81,304.46 L304.56,302.70 L304.31,300.94 L304.07,299.18 L303.83,297.42 L303.59,295.66 L303.36,293.90 L303.14,292.14 L302.92,290.38 L302.70,288.62 L302.49,286.86 L302.28,285.10 L302.08,283.34 L301.89,281.58 L301.70,279.82 L301.51,278.06 L301.33,276.30 L301.15,274.54 L300.99,272.78 L300.82,271.02 L300.66,269.26 L300.51,267.50 L300.36,265.74 L300.22,263.98 L300.09,262.22 L299.96,260.46 L299.83,258.70 L299.72,256.94 L299.61,255.18 L299.50,253.42 L299.41,251.66 L299.31,249.90 L299.23,248.14 L299.15,246.38 L299.08,244.62 L299.02,242.86 L298.96,241.10 L298.92,239.34 L298.87,237.58 L298.84,235.82 L298.81,234.06 L298.79,232.30 L298.78,230.54 L298.78,228.78 L298.79,227.03 L298.80,225.27 L298.82,223.51 L298.85,221.75 L298.89,219.99 L298.94,218.23 L299.00,216.47 L299.06,214.71 L299.14,212.95 L299.22,211.19 L299.32,209.43 L299.42,207.67 L299.54,205.91 L299.66,204.15 L299.80,202.39 L299.94,200.63 L300.10,198.87 L300.26,197.11 L300.44,195.35 L300.63,193.59 L300.83,191.83 L301.04,190.07 L301.26,188.31 L301.50,186.55 L301.74,184.79 L302.00,183.03 L302.27,181.27 L302.56,179.51 L302.86,177.75 L303.17,175.99 L303.50,174.23 L303.84,172.47 L304.19,170.71 L304.56,168.95 L304.94,167.19 L305.34,165.43 L305.75,163.67 L306.18,161.91 L306.63,160.15 L307.09,158.39 L307.57,156.63 L308.07,154.87 L308.59,153.11 L309.12,151.35 L309.67,149.59 L310.24,147.83 L310.83,146.07 L311.45,144.31 L312.08,142.55 L312.73,140.79 L313.41,139.03 L314.10,137.27 L314.83,135.51 L315.57,133.75 L316.34,131.99 L317.14,130.23 L317.96,128.47 L318.81,126.71 L319.69,124.95 L320.59,123.19 L321.53,121.43 L322.50,119.67 L323.50,117.92 L324.54,116.16 L325.61,114.40 L326.72,112.64 L327.87,110.88 L329.06,109.12 L330.29,107.36 L331.57,105.60 L332.90,103.84 L334.27,102.08 L335.70,100.32 L337.19,98.56 L338.74,96.80 L340.36,95.04 L342.05,93.28 L343.81,91.52 L345.66,89.76 L347.60,88.00 L349.64,86.24 L351.79,84.48 L354.07,82.72 L356.49,80.96 L359.08,79.20 L361.85,77.44 L364.85,75.68 L368.13,73.92 L371.75,72.16 L375.82,70.40 L380.52,68.64 L386.21,66.88 L393.80,65.12 L412.81,63.36" stroke="#ff0000"/>
<path d="M375.03,413.57 L374.57,411.81 L374.11,410.05 L373.64,408.29 L373.18,406.53 L372.72,404.77 L372.26,403.01 L371.80,401.25 L371.35,399.49 L370.89,397.73 L370.44,395.97 L369.98,394.21 L369.53,392.45 L369.08,390.69 L368.63,388.93 L368.18,387.17 L367.73,385.41 L367.28,383.65 L366.84,381.89 L366.39,380.13 L365.95,378.37 L365.51,376.61 L365.07,374.85 L364.63,373.09 L364.19,371.33 L363.75,369.57 L363.32,367.81 L362.89,366.05 L362.45,364.29 L362.02,362.53 L361.60,360.77 L361.17,359.01 L360.74,357.25 L360.32,355.49 L359.90,353.73 L359.48,351.97 L359.06,350.21 L358.64,348.45 L358.23,346.69 L357.82,344.93 L357.40,343.17 L356.99,341.41 L356.59,339.65 L356.18,337.89 L355.78,336.14 L355.38,334.38 L354.98,332.62 L354.58,330.86 L354.19,329.10 L353.79,327.34 L353.40,325.58 L353.01,323.82 L352.63,322.06 L352.24,320.30 L351.86,318.54 L351.48,316.78 L351.10,315.02 L350.73,313.26 L350.36,311.50 L349.99,309.74 L349.62,307.98 L349.26,306.22 L348.90,304.46 L348.54,302.70 L348.18,300.94 L347.83,299.18 L347.48,297.42 L347.13,295.66 L346.79,293.90 L346.45,292.14 L346.11,290.38 L345.77,288.62 L345.44,286.86 L345.11,285.10 L344.79,283.34 L344.47,281.58 L344.15,279.82 L343.83,278.06 L343.52,276.30 L343.21,274.54 L342.91,272.78 L342.61,271.02 L342.31,269.26 L342.02,267.50 L341.73,265.74 L341.45,263.98 L341.16,262.22 L340.89,260.46 L340.61,258.70 L340.35,256.94 L340.08,255.18 L339.82,253.42 L339.57,251.66 L339.32,249.90 L339.07,248.14 L338.83,246.38 L338.59,244.62 L338.36,242.86 L338.14,241.10 L337.92,239.34 L337.70,237.58 L337.49,235.82 L337.28,234.06 L337.08,232.30 L336.89,230.54 L336.70,228.78 L336.52,227.03 L336.34,225.27 L336.17,223.51 L336.01,221.75 L335.85,219.99 L335.70,218.23 L335.55,216.47 L335.41,214.71 L335.28,212.95 L335.15,211.19 L335.04,209.43 L334.92,207.67 L334.82,205.91 L334.72,204.15 L334.64,202.39 L334.55,200.63 L334.48,198.87 L334.42,197.11 L334.36,195.35 L334.31,193.59 L334.27,191.83 L334.24,190.07 L334.22,188.31 L334.20,186.55 L334.20,184.79 L334.21,183.03 L334.22,181.27 L334.25,179.51 L334.28,177.75 L334.33,175.99 L334.38,174.23 L334.45,172.47 L334.53,170.71 L334.62,168.95 L334.72,167.19 L334.84,165.43 L334.96,163.67 L335.10,161.91 L335.25,160.15 L335.42,158.39 L335.59,156.63 L335.79,154.87 L335.99,153.11 L336.21,151.35 L336.45,149.59 L336.70,147.83 L336.97,146.07 L337.25,144.31 L337.56,142.55 L337.88,140.79 L338.21,139.03 L338.57,137.27 L338.94,135.51 L339.34,133.75 L339.75,131.99 L340.19,130.23 L340.65,128.47 L341.13,126.71 L341.63,124.95 L342.16,123.19 L342.72,121.43 L343.30,119.67 L343.91,117.92 L344.55,116.16 L345.21,114.40 L345.92,112.64 L346.65,110.88 L347.42,109.12 L348.22,107.36 L349.07,105.60 L349.95,103.84 L350.88,102.08 L351.86,100.32 L352.88,98.56 L353.96,96.80 L355.10,95.04 L356.29,93.28 L357.55,91.52 L358.89,89.76 L360.30,88.00 L361.80,86.24 L363.40,84.48 L365.10,82.72 L366.93,80.96 L368.90,79.20 L371.03,77.44 L373.36,75.68 L375.93,73.92 L378.79,72.16 L382.04,70.40 L385.83,68.64 L390.48,66.88 L396.74,65.12 L412.81,63.36" stroke="#ff0000"/>
<path d="M382.14,413.57 L381.67,411.81 L381.20,410.05 L380.73,408.29 L380.26,406.53 L379.80,404.77 L379.33,403.01 L378.86,401.25 L378.40,399.49 L377.94,397.73 L377.47,395.97 L377.01,394.21 L376.55,392.45 L376.09,390.69 L375.63,388.93 L375.17,387.17 L374.72,385.41 L374.26,383.65 L373.81,381.89 L373.36,380.13 L372.90,378.37 L372.45,376.61 L372.00,374.85 L371.56,373.09 L371.11,371.33 L370.67,369.57 L370.22,367.81 L369.78,366.05 L369.34,364.29 L368.90,362.53 L368.46,360.77 L368.02,359.01 L367.59,357.25 L367.15,355.49 L366.72,353.73 L366.29,351.97 L365.86,350.21 L365.43,348.45 L365.01,346.69 L364.58,344.93 L364.16,343.17 L363.74,341.41 L363.32,339.65 L362.91,337.89 L362.49,336.14 L362.08,334.38 L361.67,332.62 L361.26,330.86 L360.85,329.10 L360.44,327.34 L360.04,325.58 L359.64,323.82 L359.24,322.06 L358.84,320.30 L358.45,318.54 L358.05,316.78 L357.66,315.02 L357.27,313.26 L356.89,311.50 L356.50,309.74 L356.12,307.98 L355.74,306.22 L355.37,304.46 L355.00,302.70 L354.62,300.94 L354.26,299.18 L353.89,297.42 L353.53,295.66 L353.17,293.90 L352.81,292.14 L352.46,290.38 L352.10,288.62 L351.76,286.86 L351.41,285.10 L351.07,283.34 L350.73,281.58 L350.39,279.82 L350.06,278.06 L349.73,276.30 L349.40,274.54 L349.08,272.78 L348.76,271.02 L348.45,269.26 L348.13,267.50 L347.82,265.74 L347.52,263.98 L347.22,262.22 L346.92,260.46 L346.63,258.70 L346.34,256.94 L346.05,255.18 L345.77,253.42 L345.50,251.66 L345.22,249.90 L344.96,248.14 L344.69,246.38 L344.43,244.62 L344.18,242.86 L343.93,241.10 L343.69,239.34 L343.45,237.58 L343.21,235.82 L342.98,234.06 L342.76,232.30 L342.54,230.54 L342.32,228.78 L342.11,227.03 L341.91,225.27 L341.71,223.51 L341.52,221.75 L341.34,219.99 L341.16,218.23 L340.98,216.47 L340.82,214.71 L340.66,212.95 L340.50,211.19 L340.36,209.43 L340.21,207.67 L340.08,205.91 L339.95,204.15 L339.83,202.39 L339.72,200.63 L339.62,198.87 L339.52,197.11 L339.43,195.35 L339.35,193.59 L339.28,191.83 L339.21,190.07 L339.16,188.31 L339.11,186.55 L339.07,184.79 L339.04,183.03 L339.02,181.27 L339.01,179.51 L339.01,177.75 L339.02,175.99 L339.04,174.23 L339.07,172.47 L339.11,170.71 L339.16,168.95 L339.22,167.19 L339.29,165.43 L339.38,163.67 L339.48,161.91 L339.59,160.15 L339.71,158.39 L339.84,156.63 L339.99,154.87 L340.16,153.11 L340.33,151.35 L340.53,149.59 L340.73,147.83 L340.95,146.07 L341.19,144.31 L341.45,142.55 L341.72,140.79 L342.01,139.03 L342.31,137.27 L342.64,135.51 L342.98,133.75 L343.34,131.99 L343.73,130.23 L344.13,128.47 L344.56,126.71 L345.01,124.95 L345.49,123.19 L345.99,121.43 L346.51,119.67 L347.06,117.92 L347.64,116.16 L348.25,114.40 L348.89,112.64 L349.57,110.88 L350.27,109.12 L351.01,107.36 L351.79,105.60 L352.61,103.84 L353.48,102.08 L354.38,100.32 L355.34,98.56 L356.34,96.80 L357.41,95.04 L358.53,93.28 L359.71,91.52 L360.97,89.76 L362.30,88.00 L363.72,86.24 L365.23,84.48 L366.85,82.72 L368.59,80.96 L370.46,79.20 L372.49,77.44 L374.72,75.68 L377.17,73.92 L379.91,72.16 L383.03,70.40 L386.69,68.64 L391.16,66.88 L397.22,65.12 L412.81,63.36" stroke="#ff0000"/>
<path d="M428.73,413.57 L428.21,411.81 L427.69,410.05 L427.18,408.29 L426.66,406.53 L426.14,404.77 L425.63,403.01 L425.11,401.25 L424.60,399.49 L424.08,397.73 L423.57,395.97 L423.05,394.21 L422.54,392.45 L422.03,390.69 L421.51,388.93 L421.00,387.17 L420.49,385.41 L419.98,383.65 L419.47,381.89 L418.96,380.13 L418.45,378.37 L417.94,376.61 L417.43,374.85 L416.93,373.09 L416.42,371.33 L415.91,369.57 L415.41,367.81 L414.90,366.05 L414.40,364.29 L413.89,362.53 L413.39,360.77 L412.89,359.01 L412.39,357.25 L411.89,355.49 L411.39,353.73 L410.89,351.97 L410.39,350.21 L409.89,348.45 L409.40,346.69 L408.90,344.93 L408.40,343.17 L407.91,341.41 L407.42,339.65 L406.93,337.89 L406.43,336.14 L405.94,334.38 L405.45,332.62 L404.97,330.86 L404.48,329.10 L403.99,327.34 L403.51,325.58 L403.02,323.82 L402.54,322.06 L402.06,320.30 L401.58,318.54 L401.10,316.78 L400.62,315.02 L400.15,313.26 L399.67,311.50 L399.20,309.74 L398.72,307.98 L398.25,306.22 L397.78,304.46 L397.31,302.70 L396.85,300.94 L396.38,299.18 L395.92,297.42 L395.45,295.66 L394.99,293.90 L394.53,292.14 L394.08,290.38 L393.62,288.62 L393.17,286.86 L392.71,285.10 L392.26,283.34 L391.81,281.58 L391.37,279.82 L390.92,278.06 L390.48,276.30 L390.04,274.54 L389.60,272.78 L389.16,271.02 L388.73,269.26 L388.29,267.50 L387.86,265.74 L387.43,263.98 L387.01,262.22 L386.58,260.46 L386.16,258.70 L385.74,256.94 L385.33,255.18 L384.91,253.42 L384.50,251.66 L384.09,249.90 L383.69,248.14 L383.28,246.38 L382.88,244.62 L382.49,242.86 L382.09,241.10 L381.70,239.34 L381.31,237.58 L380.93,235.82 L380.55,234.06 L380.17,232.30 L379.79,230.54 L379.42,228.78 L379.05,227.03 L378.69,225.27 L378.32,223.51 L377.97,221.75 L377.61,219.99 L377.26,218.23 L376.92,216.47 L376.58,214.71 L376.24,212.95 L375.91,211.19 L375.58,209.43 L375.25,207.67 L374.93,205.91 L374.62,204.15 L374.31,202.39 L374.00,200.63 L373.70,198.87 L373.41,197.11 L373.12,195.35 L372.83,193.59 L372.55,191.83 L372.28,190.07 L372.01,188.31 L371.75,186.55 L371.50,184.79 L371.25,183.03 L371.01,181.27 L370.77,179.51 L370.54,177.75 L370.32,175.99 L370.10,174.23 L369.89,172.47 L369.69,170.71 L369.50,168.95 L369.32,167.19 L369.14,165.43 L368.97,163.67 L368.81,161.91 L368.66,160.15 L368.52,158.39 L368.39,156.63 L368.26,154.87 L368.15,153.11 L368.05,151.35 L367.96,149.59 L367.88,147.83 L367.81,146.07 L367.75,144.31 L367.70,142.55 L367.67,140.79 L367.65,139.03 L367.64,137.27 L367.65,135.51 L367.67,133.75 L367.70,131.99 L367.75,130.23 L367.82,128.47 L367.90,126.71 L368.01,124.95 L368.13,123.19 L368.26,121.43 L368.42,119.67 L368.60,117.92 L368.80,116.16 L369.02,114.40 L369.27,112.64 L369.54,110.88 L369.84,109.12 L370.16,107.36 L370.52,105.60 L370.91,103.84 L371.32,102.08 L371.78,100.32 L372.27,98.56 L372.81,96.80 L373.38,95.04 L374.01,93.28 L374.68,91.52 L375.41,89.76 L376.20,88.00 L377.06,86.24 L378.00,84.48 L379.02,82.72 L380.13,80.96 L381.35,79.20 L382.71,77.44 L384.21,75.68 L385.90,73.92 L387.82,72.16 L390.05,70.40 L392.70,68.64 L396.01,66.88 L400.59,65.12 L412.81,63.36" stroke="#ff0000"/>
</g>
<rect x="80.5" y="48.5" width="496" height="384" fill="none" stroke="#000" stroke-width="1"/>
<path d="M80.5,432.5 v-4.5 M80.5,48.5 v4.5 M135.5,432.5 v-4.5 M135.5,48.5 v4.5 M190.5,432.5 v-4.5 M190.5,48.5 v4.5 M245.5,432.5 v-4.5 M245.5,48.5 v4.5 M300.5,432.5 v-4.5 M300.5,48.5 v4.5 M356.5,432.5 v-4.5 M356.5,48.5 v4.5 M411.5,432.5 v-4.5 M411.5,48.5 v4.5 M466.5,432.5 v-4.5 M466.5,48.5 v4.5 M521.5,432.5 v-4.5 M521.5,48.5 v4.5 M576.5,432.5 v-4.5 M576.5,48.5 v4.5 M80.5,48.5 h4.5 M576.5,48.5 h-4.5 M80.5,125.5 h4.5 M576.5,125.5 h-4.5 M80.5,202.5 h4.5 M576.5,202.5 h-4.5 M80.5,278.5 h4.5 M576.5,278.5 h-4.5 M80.5,355.5 h4.5 M576.5,355.5 h-4.5 M80.5,432.5 h4.5 M576.5,432.5 h-4.5" stroke="#000" stroke-width="0.6" fill="none"/>
<g font-family="'DejaVu Sans', 'Liberation Sans', sans-serif" font-size="12.9" fill="#000">
<text x="80.50" y="446.2" text-anchor="middle">0.0</text>
<text x="135.61" y="446.2" text-anchor="middle">0.5</text>
<text x="190.72" y="446.2" text-anchor="middle">1.0</text>
<text x="245.83" y="446.2" text-anchor="middle">1.5</text>
<text x="300.94" y="446.2" text-anchor="middle">2.0</text>
<text x="356.06" y="446.2" text-anchor="middle">2.5</text>
<text x="411.17" y="446.2" text-anchor="middle">3.0</text>
<text x="466.28" y="446.2" text-anchor="middle">3.5</text>
<text x="521.39" y="446.2" text-anchor="middle">4.0</text>
<text x="576.50" y="446.2" text-anchor="middle">4.5</text>
<text x="75.9" y="51.90" text-anchor="end">20</text>
<text x="75.9" y="128.70" text-anchor="end">15</text>
<text x="75.9" y="205.50" text-anchor="end">10</text>
<text x="75.9" y="282.30" text-anchor="end">5</text>
<text x="75.9" y="359.10" text-anchor="end">0</text>
<text x="75.9" y="435.90" text-anchor="end">−5</text>
<text transform="translate(49.0,240.6) rotate(-90)" text-anchor="middle" font-size="13.33">Energy Transfer (meV)</text>
</g>
<text y="471" font-family="'Liberation Serif', 'DejaVu Serif', serif" font-size="14" fill="#1a1a1a"><tspan x="300.2" fill="#777">|</tspan><tspan x="303.2" font-style="italic" font-size="14.8">Q</tspan><tspan x="314.3" fill="#777">|</tspan><tspan x="322.4">(</tspan><tspan x="327.0">Å</tspan><tspan x="337.4" y="463.6" font-size="11">−</tspan><tspan x="343.9" y="462.7" font-size="9.5">1</tspan><tspan x="351.5" y="471">)</tspan></text>
<rect x="397.5" y="56.5" width="171" height="77" fill="#fff" stroke="#000" stroke-width="1"/>
<path d="M408.2,69.60 L430.8,69.60" stroke="#0000ff" stroke-width="1.3"/>
<text x="447.5" y="75.20" font-family="'DejaVu Sans', 'Liberation Sans', sans-serif" font-size="15.85" fill="#000">LET_Ei=9.0</text>
<path d="M408.2,93.55 L430.8,93.55" stroke="#008000" stroke-width="1.3"/>
<text x="447.5" y="99.15" font-family="'DejaVu Sans', 'Liberation Sans', sans-serif" font-size="15.85" fill="#000">IRIS_PG002</text>
<path d="M408.2,117.50 L430.8,117.50" stroke="#ff0000" stroke-width="1.3"/>
<text x="447.5" y="123.10" font-family="'DejaVu Sans', 'Liberation Sans', sans-serif" font-size="15.85" fill="#000">MAPS_Ei=19.0</text>
</svg>

<!-- tab widget -->
<div id="pane" class="abs"></div>
<div id="tab2" class="abs"></div>
<div id="tab1" class="abs"></div>
<div class="abs lbl" style="left:39px;top:55px">Direct</div>
<div class="abs lbl" style="left:91px;top:56px;letter-spacing:0.1px">Indirect</div>

<div id="combo" class="abs"></div>
<div class="abs lbl" style="left:42px;top:85px;letter-spacing:-0.6px">MAPS</div>
<svg class="abs" style="left:208px;top:88px" width="9" height="6" viewBox="0 0 9 6"><path d="M1,0.6 L8,0.6 L4.5,4.6 Z" fill="#000"/></svg>

<div class="abs lbl" style="left:47px;top:120px">Ei</div>
<div id="edit" class="abs"></div>
<div class="abs lbl" style="left:66px;top:121px;letter-spacing:-0.3px">19</div>

<div class="abs chk" style="left:39px;top:153px"><i></i></div>
<svg class="abs" style="left:41px;top:155px" width="10" height="10" viewBox="0 0 10 10"><path d="M0.9,3.6 L2.7,3.3 L3.9,6 C4.8,3.8 6.2,1.8 8,0.5 L8.7,1.1 C7,3.2 5.7,6 4.8,9 L3,9 C2.6,7.2 1.9,5.2 0.9,3.6 Z" fill="#40529a"/></svg>
<div class="abs lbl" style="left:56px;top:154px">Plot Over</div>
<div class="abs chk" style="left:39px;top:176px"><i></i></div>
<div class="abs lbl" style="left:56px;top:177px">Create Workspace</div>

<div class="abs btn" style="left:40px;top:198px;width:181px;height:21px;line-height:21px;">Plot Q-E</div>
<div class="abs btn" style="left:20px;top:546px;width:28px;height:21px;line-height:21px;">?</div>
</div>
</body>
</html>
